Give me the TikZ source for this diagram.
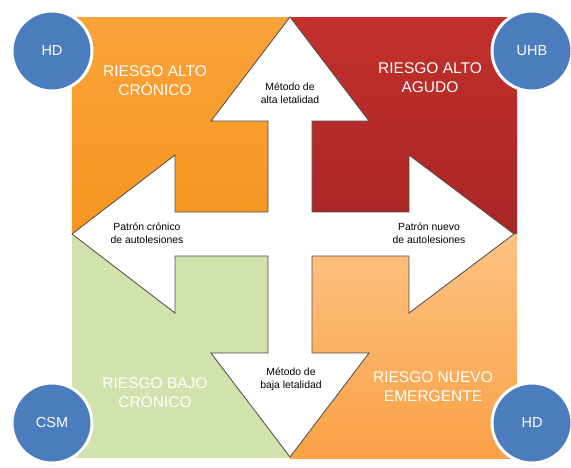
\documentclass[tikz,border=0pt]{standalone}
\usepackage{fontspec}
\setmainfont{Liberation Sans}
\usetikzlibrary{shadows}

\definecolor{altocron}{HTML}{F7951F}
\definecolor{altocrontop}{HTML}{F9A23A}
\definecolor{altoagudo}{HTML}{C3302C}
\definecolor{altoagudobot}{HTML}{A82626}
\definecolor{bajocron}{HTML}{D1E2AC}
\definecolor{nuevotop}{HTML}{FDC283}
\definecolor{nuevobot}{HTML}{F9A145}
\definecolor{unitblue}{HTML}{4A7CBE}
\definecolor{crossline}{HTML}{4A4A44}

\tikzset{
    quadlabel/.style={text=white, align=center, font=\fontsize{15.5}{19}\selectfont},
    arrowlabel/.style={text=black, align=center, font=\fontsize{10.4}{12.5}\selectfont},
    unit/.style={circle, fill=unitblue, draw=white, line width=3pt, minimum size=80pt,
        text=white, font=\fontsize{14.5}{17}\selectfont,
        drop shadow={opacity=0.25, shadow xshift=1pt, shadow yshift=-1.5pt}}
}

\begin{document}
\begin{tikzpicture}[x=1pt,y=-1pt]
        \useasboundingbox (0,0) rectangle (571,467);

        % cuadrantes
        \shade[top color=altocrontop, bottom color=altocron] (72,17) rectangle (290,234);
        \shade[top color=altoagudo, bottom color=altoagudobot] (290,17) rectangle (517,234);
        \fill[bajocron] (72,234) rectangle (290,458);
        \shade[top color=nuevotop, bottom color=nuevobot] (290,234) rectangle (517,458);

        % cruz de flechas
        \draw[fill=white, draw=crossline, line width=0.8pt, line join=miter]
            (290,17) -- (369,121) -- (312,121) -- (312,212) -- (409,212) -- (409,155)
            -- (514,234) -- (409,313) -- (409,256) -- (312,256) -- (312,353) -- (369,353)
            -- (290,457) -- (211,353) -- (268,353) -- (268,256) -- (175,256) -- (175,313)
            -- (72,234) -- (175,155) -- (175,212) -- (268,212) -- (268,121) -- (211,121) -- cycle;

        \node[quadlabel] (altocronico) at (155,81) {RIESGO ALTO\\CRÓNICO};
        \node[quadlabel] (altoagudo) at (430,78) {RIESGO ALTO\\AGUDO};
        \node[quadlabel] (bajocronico) at (155,393) {RIESGO BAJO\\CRÓNICO};
        \node[quadlabel] (nuevoemerg) at (433,387) {RIESGO NUEVO\\EMERGENTE};

        \node[arrowlabel] (altaletal) at (290,93) {Método de\\alta letalidad};
        \node[arrowlabel] (bajaletal) at (291,379) {Método de\\baja letalidad};
        \node[arrowlabel] (patroncron) at (147,233) {Patrón crónico\\de autolesiones};
        \node[arrowlabel] (patronnuevo) at (429,233) {Patrón nuevo\\de autolesiones};

        \node[unit] (hdtop) at (52,51) {HD};
        \node[unit] (uhb) at (532,51) {UHB};
        \node[unit] (csm) at (52,423) {CSM};
        \node[unit] (hdbot) at (532,423) {HD};
    \end{tikzpicture}
\end{document}
